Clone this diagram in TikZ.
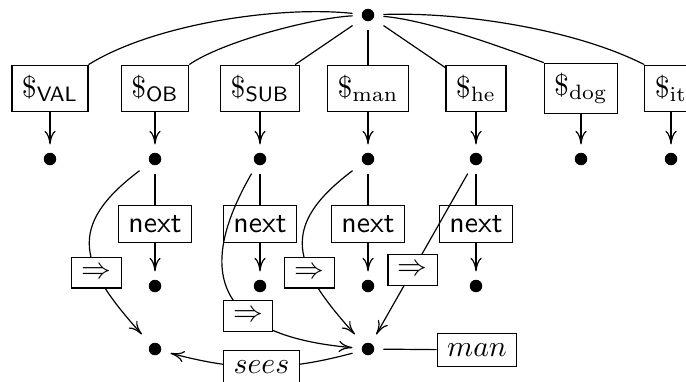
\documentclass[tikz,border=0pt]{standalone}
\usetikzlibrary{arrows.meta}
\begin{document}
\begin{tikzpicture}[x=0.336pt,y=0.336pt,
  dot/.style={rectangle,inner sep=0pt,minimum width=10pt,minimum height=9.4pt,
    path picture={\fill (path picture bounding box.center) circle (2.1pt);}},
  box/.style={draw,inner sep=3.33pt},
  lbl/.style={draw,fill=white,inner sep=3.33pt},
  arr/.style={-{Computer Modern Rightarrow[length=4.6pt,width=3.8pt]}},
  ]
\useasboundingbox (0,0) rectangle (686,-381);

% root
\node[dot] (top) at (368,-15) {};

% referent boxes
\node[box] (sval) at (50,-88.5)  {$\$_{\mathsf{VAL}}$};
\node[box] (sob)  at (155,-88.5) {$\$_{\mathsf{OB}}$};
\node[box] (ssub) at (260,-88.5) {$\$_{\mathsf{SUB}}$};
\node[box] (sman) at (368,-88.5) {$\$_{\mathrm{man}}$};
\node[box] (she)  at (476,-88.5) {$\$_{\mathrm{he}}$};
\node[box] (sdog) at (581,-88.5) {$\$_{\mathrm{dog}}$};
\node[box] (sit)  at (671,-88.5) {$\$_{\mathrm{it}}$};

% values
\node[dot] (dval) at (50,-159)  {};
\node[dot] (dob)  at (155,-159) {};
\node[dot] (dsub) at (260,-159) {};
\node[dot] (dman) at (368,-159) {};
\node[dot] (dhe)  at (476,-159) {};
\node[dot] (ddog) at (581,-159) {};
\node[dot] (dit)  at (671,-159) {};

% next boxes
\node[box] (nob)  at (155,-224) {\textsf{next}};
\node[box] (nsub) at (260,-224) {\textsf{next}};
\node[box] (nman) at (368,-224) {\textsf{next}};
\node[box] (nhe)  at (476,-224) {\textsf{next}};

\node[dot] (eob)  at (155,-286) {};
\node[dot] (esub) at (260,-286) {};
\node[dot] (eman) at (368,-286) {};
\node[dot] (ehe)  at (476,-286) {};

% bottom
\node[dot] (bl) at (155,-349) {};
\node[dot] (br) at (368,-349) {};
\node[box] (mlab) at (477,-350) {$man$};

% root to boxes
\draw (top) to[out=174,in=32,looseness=0.72] (sval.north east);
\draw (top) to[out=183,in=35,looseness=0.6] (sob.north east);
\draw (top) -- (ssub);
\draw (top) -- (sman);
\draw (top) -- (she);
\draw (top) to[out=-5,in=160,looseness=0.7] (sdog.north west);
\draw (top) to[out=2,in=153,looseness=0.75] (sit.north west);

% boxes to values
\foreach \a/\b in {sval/dval,sob/dob,ssub/dsub,sman/dman,she/dhe,sdog/ddog,sit/dit}
  \draw[arr] (\a) -- (\b);

% next chains
\foreach \a/\b/\c in {dob/nob/eob,dsub/nsub/esub,dman/nman/eman,dhe/nhe/ehe}{
  \draw (\a) -- (\b);
  \draw[arr] (\b) -- (\c);
}

% implications
\draw[arr] (dob) to[out=217,in=132,looseness=1.45] node[lbl,pos=0.66] {$\Rightarrow$} (bl);
\draw[arr] (dsub) to[out=240,in=175,looseness=1.6] node[lbl,pos=0.62] {$\Rightarrow$} (br);
\draw[arr] (dman) to[out=217,in=132,looseness=1.45] node[lbl,pos=0.66] {$\Rightarrow$} (br);
\draw[arr] (dhe) -- node[lbl,pos=0.6] {$\Rightarrow$} (br);

% relation
\draw[arr] (br) to[out=195,in=-15] node[lbl,pos=0.5] {$sees$} (bl);
\draw (br) -- (mlab);
\end{tikzpicture}
\end{document}
